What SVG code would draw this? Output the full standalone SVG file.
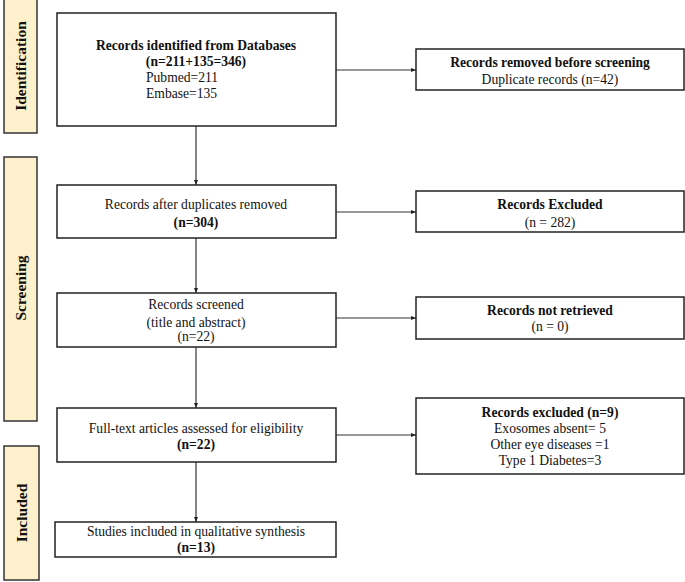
<svg xmlns="http://www.w3.org/2000/svg" width="685" height="582" viewBox="0 0 685 582">
<defs>
<style>
.box{fill:#fff;stroke:#222;stroke-width:1.5}
.side{fill:#fdf0cc;stroke:#333;stroke-width:1.5}
.t{font-family:"Liberation Serif","Times New Roman",serif;font-size:13.6px;fill:#111;text-anchor:middle}
.l{text-anchor:start}
.b{font-weight:bold}
.s{font-family:"Liberation Serif","Times New Roman",serif;font-size:15.5px;font-weight:bold;fill:#111;text-anchor:middle}
.c{stroke:#333;stroke-width:1.2;fill:none;marker-end:url(#ah)}
</style>
<marker id="ah" viewBox="0 0 10 10" refX="10" refY="5" markerWidth="5" markerHeight="5" markerUnits="userSpaceOnUse" orient="auto">
<path d="M0,1 L10,5 L0,9 z" fill="#222"/>
</marker>
</defs>
<rect width="685" height="582" fill="#fff"/>
<g id="phase-identification">
<rect class="side" x="4" y="-1" width="33" height="134"/>
<text class="s" transform="translate(26,66) rotate(-90)">Identification</text>
</g>
<g id="phase-screening">
<rect class="side" x="4" y="157" width="33" height="264"/>
<text class="s" transform="translate(26,288) rotate(-90)">Screening</text>
</g>
<g id="phase-included">
<rect class="side" x="4" y="446" width="35" height="134"/>
<text class="s" transform="translate(27,513) rotate(-90)">Included</text>
</g>
<g id="connectors">
<line class="c" x1="196" y1="126" x2="196" y2="185"/>
<line class="c" x1="196" y1="238" x2="196" y2="293"/>
<line class="c" x1="196" y1="347" x2="196" y2="408"/>
<line class="c" x1="196" y1="462" x2="196" y2="522"/>
<line class="c" x1="336" y1="70" x2="416" y2="70"/>
<line class="c" x1="336" y1="212" x2="416" y2="212"/>
<line class="c" x1="336" y1="318" x2="416" y2="318"/>
<line class="c" x1="336" y1="435" x2="416" y2="435"/>
</g>
<g id="identified">
<rect class="box" x="57" y="13" width="279" height="113"/>
<text class="t b" x="196" y="50">Records identified from Databases</text>
<text class="t b" x="196" y="66">(n=211+135=346)</text>
<text class="t l" x="146" y="82">Pubmed=211</text>
<text class="t l" x="146" y="98">Embase=135</text>
</g>
<g id="removed">
<rect class="box" x="416" y="49" width="268" height="41"/>
<text class="t b" x="550" y="67">Records removed before screening</text>
<text class="t" x="550" y="84">Duplicate records (n=42)</text>
</g>
<g id="after-dup">
<rect class="box" x="57" y="185" width="279" height="53"/>
<text class="t" x="196" y="209">Records after duplicates removed</text>
<text class="t b" x="196" y="227">(n=304)</text>
</g>
<g id="excluded">
<rect class="box" x="416" y="191" width="268" height="41"/>
<text class="t b" x="550" y="209">Records Excluded</text>
<text class="t" x="550" y="227">(n = 282)</text>
</g>
<g id="screened">
<rect class="box" x="57" y="293" width="279" height="54"/>
<text class="t" x="196" y="309">Records screened</text>
<text class="t" x="196" y="327">(title and abstract)</text>
<text class="t" x="196" y="341">(n=22)</text>
</g>
<g id="not-retrieved">
<rect class="box" x="416" y="297" width="268" height="42"/>
<text class="t b" x="550" y="315">Records not retrieved</text>
<text class="t" x="550" y="331">(n = 0)</text>
</g>
<g id="fulltext">
<rect class="box" x="57" y="408" width="279" height="54"/>
<text class="t" x="196" y="433">Full-text articles assessed for eligibility</text>
<text class="t b" x="196" y="449">(n=22)</text>
</g>
<g id="excluded-9">
<rect class="box" x="416" y="398" width="268" height="76"/>
<text class="t b" x="550" y="417">Records excluded (n=9)</text>
<text class="t" x="550" y="433">Exosomes absent= 5</text>
<text class="t" x="550" y="449">Other eye diseases =1</text>
<text class="t" x="550" y="465">Type 1 Diabetes=3</text>
</g>
<g id="included">
<rect class="box" x="55" y="522" width="281" height="35"/>
<text class="t" x="196" y="536">Studies included in qualitative synthesis</text>
<text class="t b" x="196" y="552">(n=13)</text>
</g>
</svg>
